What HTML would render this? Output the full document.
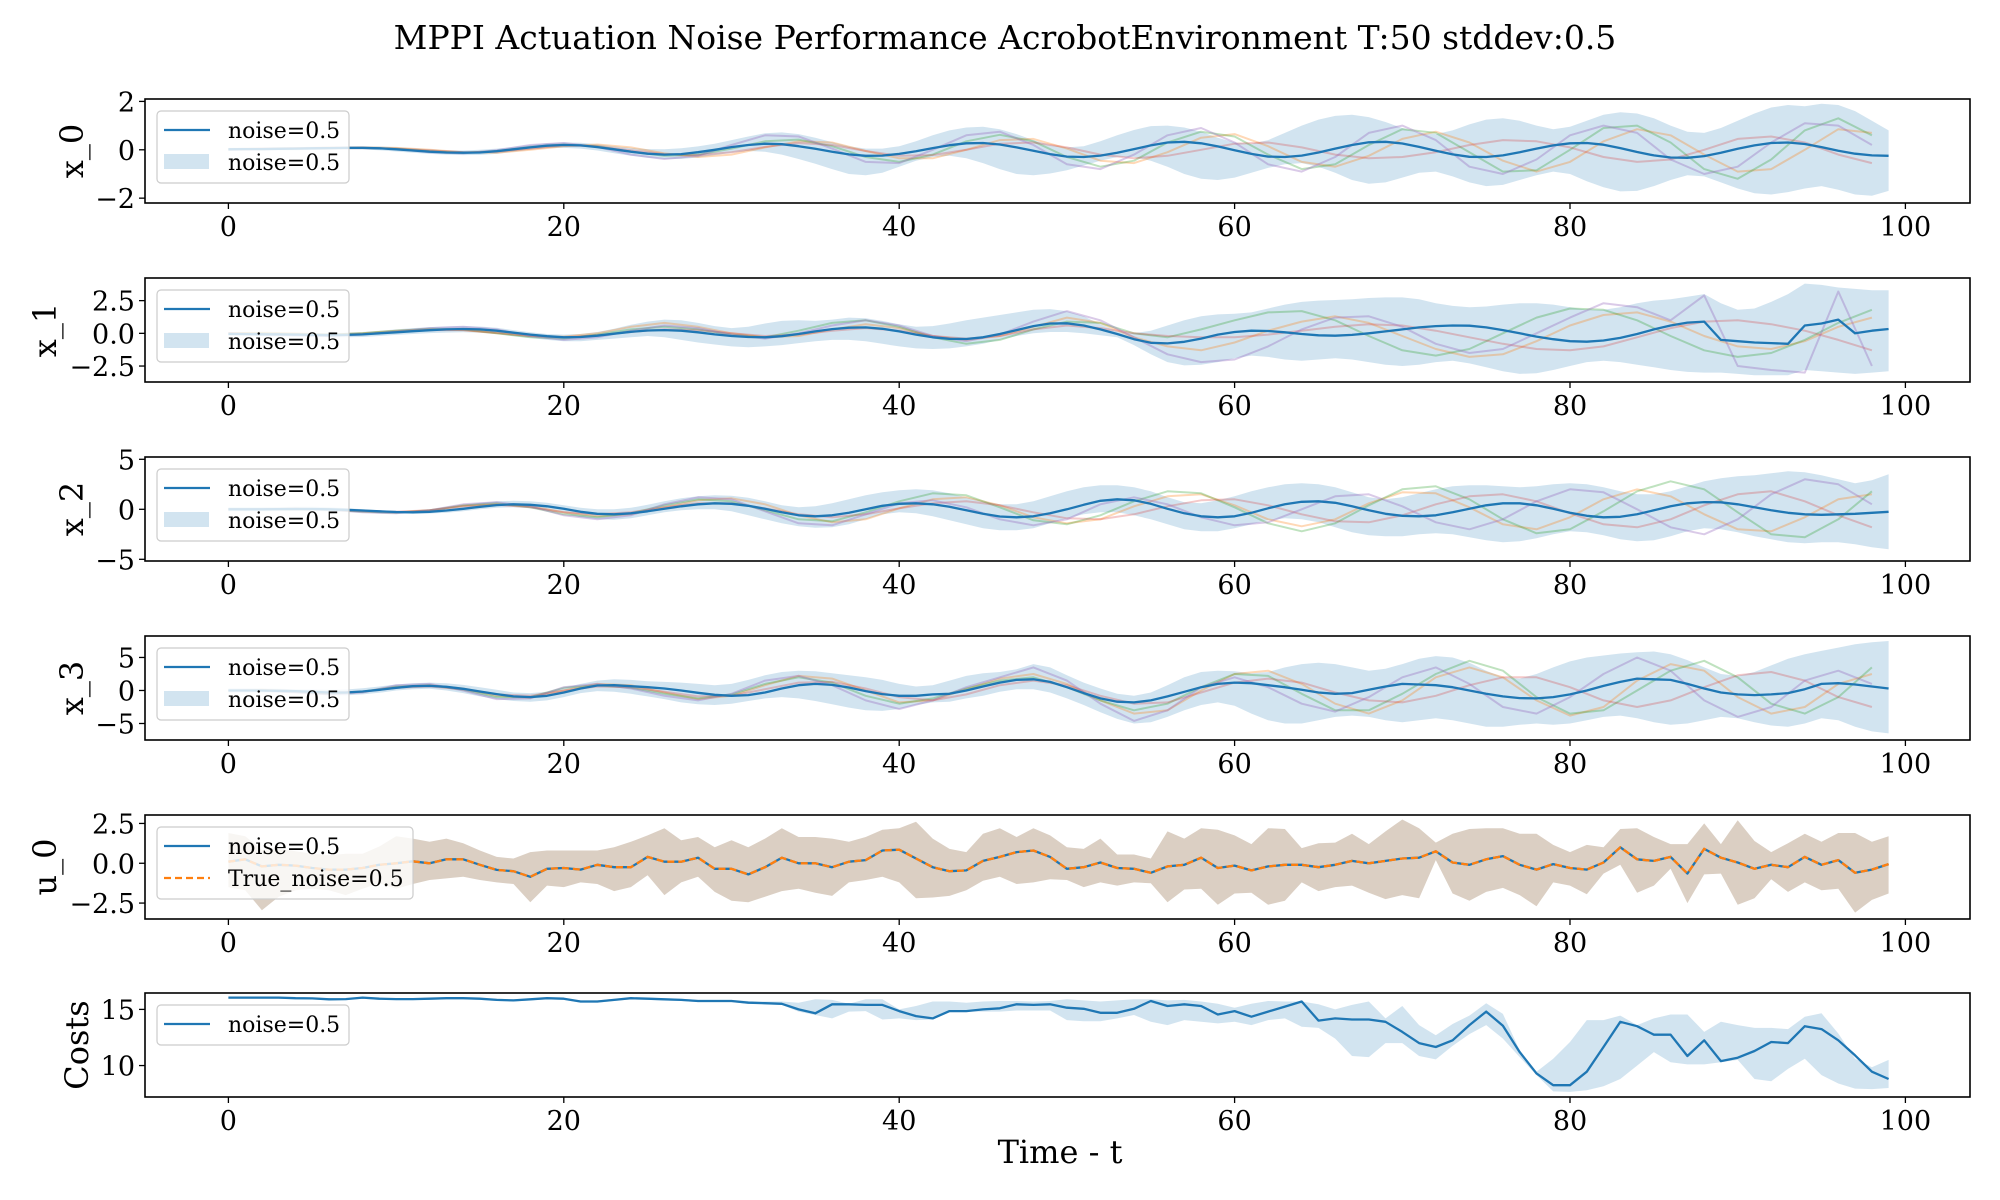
<!DOCTYPE html>
<html><head><meta charset="utf-8">
<style>
html,body{margin:0;padding:0;background:#fff;}
svg{display:block;font-family:"DejaVu Serif","Liberation Serif",serif;}
</style></head>
<body>
<svg id="chart" width="2000" height="1200" viewBox="0 0 2000 1200">
<text x="1005" y="49" font-size="33" text-anchor="middle">MPPI Actuation Noise Performance AcrobotEnvironment T:50 stddev:0.5</text>
<text x="1060" y="1163" font-size="32" text-anchor="middle">Time - t</text>
</svg>
<script>
// ---------- data ----------
const xTicks = [0,20,40,60,80,100];
const x0Mean = [0.02,0.03,0.03,0.04,0.05,0.06,0.07,0.08,0.08,0.06,0.02,-0.03,-0.08,-0.11,-0.12,-0.11,-0.06,0.02,0.1,0.17,0.2,0.18,0.11,0.02,-0.08,-0.16,-0.2,-0.18,-0.1,0.0,0.11,0.2,0.25,0.23,0.15,0.04,-0.08,-0.19,-0.25,-0.24,-0.17,-0.06,0.07,0.19,0.27,0.28,0.22,0.1,-0.04,-0.18,-0.28,-0.3,-0.24,-0.12,0.03,0.18,0.3,0.33,0.27,0.14,-0.02,-0.17,-0.28,-0.3,-0.24,-0.11,0.05,0.2,0.31,0.33,0.26,0.12,-0.04,-0.19,-0.29,-0.3,-0.23,-0.1,0.05,0.18,0.27,0.28,0.21,0.07,-0.09,-0.23,-0.32,-0.33,-0.26,-0.12,0.04,0.18,0.28,0.3,0.24,0.11,-0.04,-0.16,-0.23,-0.25];
const x0Hi = [0.08,0.09,0.1,0.1,0.11,0.12,0.13,0.14,0.15,0.14,0.1,0.06,0.02,-0.02,-0.03,0.0,0.05,0.12,0.2,0.27,0.3,0.29,0.23,0.15,0.08,0.03,0.02,0.06,0.14,0.25,0.4,0.55,0.68,0.72,0.65,0.5,0.32,0.15,0.05,0.05,0.15,0.35,0.6,0.8,0.92,0.95,0.85,0.65,0.4,0.2,0.1,0.15,0.35,0.6,0.82,0.98,1.0,0.92,0.75,0.5,0.3,0.25,0.4,0.7,1.0,1.25,1.4,1.45,1.35,1.15,0.9,0.7,0.65,0.8,1.05,1.25,1.3,1.2,1.0,0.85,0.95,1.2,1.45,1.55,1.5,1.3,1.0,0.75,0.7,0.9,1.2,1.5,1.75,1.85,1.8,1.9,1.85,1.6,1.2,0.8];
const x0Lo = [-0.04,-0.03,-0.03,-0.02,-0.02,-0.01,0.0,0.01,0.01,-0.02,-0.07,-0.12,-0.17,-0.2,-0.22,-0.21,-0.17,-0.08,0.0,0.06,0.08,0.05,-0.03,-0.14,-0.25,-0.33,-0.38,-0.38,-0.32,-0.22,-0.12,-0.05,-0.08,-0.2,-0.38,-0.58,-0.8,-1.0,-1.05,-0.95,-0.7,-0.45,-0.3,-0.25,-0.35,-0.55,-0.8,-1.0,-1.05,-0.98,-0.85,-0.65,-0.45,-0.3,-0.3,-0.45,-0.7,-1.0,-1.2,-1.25,-1.15,-0.95,-0.75,-0.6,-0.55,-0.7,-0.95,-1.25,-1.4,-1.35,-1.15,-0.95,-0.9,-1.1,-1.35,-1.5,-1.45,-1.25,-1.05,-0.9,-1.0,-1.3,-1.55,-1.72,-1.7,-1.5,-1.25,-1.05,-1.1,-1.35,-1.6,-1.8,-1.85,-1.75,-1.6,-1.5,-1.65,-1.85,-1.9,-1.7];
const x0Purple = [0.02,0.04,0.06,0.08,0.09,0.03,-0.1,-0.15,-0.02,0.2,0.28,0.12,-0.2,-0.38,-0.25,0.2,0.6,0.55,0.05,-0.5,-0.55,0.0,0.6,0.75,0.2,-0.6,-0.8,-0.2,0.6,0.9,0.3,-0.6,-0.9,-0.3,0.7,1.0,0.4,-0.7,-1.0,-0.4,0.6,1.0,0.7,-0.4,-1.0,-0.7,0.3,1.1,1.0,0.2];
const x0Green = [0.02,0.03,0.05,0.07,0.08,0.04,-0.06,-0.12,-0.05,0.12,0.22,0.15,-0.08,-0.25,-0.2,0.05,0.35,0.42,0.15,-0.3,-0.5,-0.2,0.35,0.62,0.35,-0.3,-0.7,-0.45,0.3,0.75,0.55,-0.2,-0.8,-0.6,0.2,0.85,0.7,-0.1,-0.9,-0.85,0.0,0.9,1.0,0.3,-0.8,-1.2,-0.4,0.8,1.3,0.6];
const x0Orange = [0.03,0.05,0.07,0.09,0.1,0.08,0.0,-0.1,-0.12,0.0,0.15,0.22,0.1,-0.15,-0.3,-0.2,0.1,0.35,0.3,-0.05,-0.35,-0.35,0.0,0.4,0.45,0.05,-0.45,-0.55,-0.1,0.5,0.65,0.15,-0.5,-0.7,-0.25,0.45,0.75,0.3,-0.45,-0.9,-0.5,0.35,0.85,0.6,-0.2,-0.9,-0.8,0.0,0.85,0.7];
const x0Red = [0.0,0.02,0.04,0.06,0.07,0.05,-0.03,-0.1,-0.08,0.05,0.18,0.15,-0.02,-0.18,-0.22,-0.1,0.12,0.28,0.2,-0.05,-0.25,-0.22,0.0,0.25,0.3,0.1,-0.2,-0.35,-0.25,0.0,0.25,0.3,0.1,-0.2,-0.35,-0.3,-0.1,0.2,0.4,0.35,0.1,-0.3,-0.5,-0.4,0.0,0.45,0.55,0.3,-0.2,-0.55];

const x1Mean = [-0.05,-0.06,-0.07,-0.08,-0.1,-0.12,-0.14,-0.12,-0.08,0.0,0.08,0.16,0.24,0.3,0.33,0.3,0.2,0.05,-0.1,-0.22,-0.3,-0.28,-0.18,-0.03,0.12,0.22,0.25,0.2,0.08,-0.08,-0.2,-0.28,-0.3,-0.22,-0.05,0.15,0.32,0.43,0.45,0.35,0.15,-0.1,-0.3,-0.42,-0.43,-0.3,-0.05,0.25,0.55,0.75,0.77,0.6,0.3,-0.05,-0.45,-0.72,-0.77,-0.65,-0.4,-0.1,0.1,0.2,0.18,0.08,-0.05,-0.15,-0.18,-0.12,0.0,0.15,0.3,0.45,0.55,0.6,0.58,0.45,0.25,0.0,-0.25,-0.45,-0.6,-0.64,-0.55,-0.35,-0.05,0.3,0.6,0.82,0.9,-0.5,-0.6,-0.7,-0.75,-0.8,0.6,0.75,1.05,0.0,0.2,0.33];
const x1Hi = [0.05,0.05,0.05,0.04,0.03,0.02,0.0,0.05,0.1,0.2,0.3,0.4,0.48,0.52,0.55,0.52,0.42,0.25,0.08,-0.05,-0.1,-0.05,0.1,0.35,0.65,0.9,1.05,1.0,0.8,0.55,0.4,0.5,0.75,0.95,1.0,0.95,1.05,1.2,1.15,0.95,0.7,0.5,0.55,0.75,1.0,1.2,1.4,1.6,1.8,1.85,1.7,1.3,0.7,0.15,0.0,0.2,0.6,1.0,1.3,1.45,1.5,1.6,1.9,2.2,2.4,2.5,2.55,2.6,2.7,2.75,2.75,2.6,2.3,2.1,2.0,2.05,2.2,2.3,2.3,2.2,2.0,1.8,1.8,2.0,2.3,2.5,2.6,2.8,3.0,2.3,1.8,1.9,2.4,3.0,3.8,3.7,3.5,3.4,3.3,3.3];
const x1Lo = [-0.15,-0.17,-0.2,-0.22,-0.25,-0.28,-0.3,-0.3,-0.28,-0.2,-0.12,-0.05,0.02,0.06,0.08,0.05,-0.05,-0.2,-0.35,-0.5,-0.6,-0.6,-0.5,-0.4,-0.3,-0.2,-0.3,-0.5,-0.7,-0.85,-1.0,-1.07,-1.0,-0.9,-0.75,-0.6,-0.5,-0.5,-0.6,-0.8,-1.0,-1.15,-1.2,-1.15,-1.0,-0.8,-0.5,-0.2,0.0,0.1,0.1,0.0,-0.15,-0.3,-0.9,-1.6,-2.2,-2.45,-2.4,-2.2,-1.9,-1.7,-1.8,-2.0,-2.1,-2.0,-1.9,-2.0,-2.2,-2.4,-2.5,-2.4,-2.2,-2.1,-2.3,-2.6,-2.9,-3.1,-3.05,-2.8,-2.5,-2.2,-2.1,-2.2,-2.4,-2.6,-2.8,-2.95,-3.0,-3.0,-3.1,-3.2,-3.2,-3.2,-2.8,-2.9,-3.0,-3.1,-3.0,-2.9];
const x1Purple = [0,-0.1,-0.15,-0.2,-0.1,0.15,0.4,0.5,0.3,-0.2,-0.5,-0.3,0.2,0.6,0.4,-0.1,-0.4,0.0,0.6,1.0,0.6,-0.2,-0.6,-0.1,0.9,1.7,1.0,-0.3,-1.6,-2.2,-2.0,-1.0,0.3,1.2,1.3,0.5,-0.8,-1.5,-1.2,0.0,1.2,2.3,2.0,1.0,2.9,-2.5,-2.8,-3.0,3.2,-2.5];
const x1Green = [0,0,-0.05,-0.1,0.0,0.2,0.35,0.3,0.0,-0.3,-0.4,-0.1,0.3,0.5,0.3,-0.1,-0.3,0.2,0.8,1.0,0.5,-0.3,-0.8,-0.5,0.3,0.9,0.8,0.0,-0.3,0.3,1.0,1.6,1.7,1.0,-0.2,-1.3,-1.7,-1.2,0.0,1.2,1.9,1.8,1.0,-0.2,-1.3,-1.8,-1.5,-0.5,0.8,1.8];
const x1Orange = [0,0.05,0.0,-0.1,0.0,0.2,0.3,0.25,0.0,-0.2,-0.25,0.0,0.5,0.8,0.5,0.0,-0.3,-0.2,0.3,0.7,0.4,-0.2,-0.5,-0.2,0.5,1.2,0.8,-0.3,-1.0,-1.3,-0.7,0.2,0.9,1.3,0.8,-0.2,-1.2,-1.8,-1.6,-0.6,0.6,1.4,1.6,0.9,-0.2,-1.0,-1.2,-0.6,0.5,1.2];
const x1Red = [0,-0.05,-0.1,-0.15,-0.05,0.1,0.25,0.25,0.05,-0.2,-0.3,-0.15,0.1,0.3,0.25,0.0,-0.2,-0.1,0.2,0.4,0.2,-0.2,-0.4,-0.2,0.3,0.6,0.4,0.0,-0.2,-0.3,-0.3,-0.1,0.2,0.5,0.7,0.6,0.2,-0.3,-0.8,-1.2,-1.3,-1.0,-0.3,0.4,0.9,1.0,0.7,0.2,-0.5,-1.3];

const x2Mean = [0.0,0.0,0.0,0.02,0.03,0.03,0.0,-0.05,-0.12,-0.2,-0.27,-0.3,-0.25,-0.12,0.05,0.25,0.42,0.5,0.45,0.3,0.05,-0.25,-0.45,-0.5,-0.4,-0.2,0.05,0.3,0.5,0.6,0.55,0.35,0.05,-0.3,-0.6,-0.7,-0.6,-0.35,0.0,0.35,0.55,0.6,0.5,0.25,-0.1,-0.45,-0.72,-0.8,-0.7,-0.4,0.0,0.45,0.85,1.0,0.9,0.55,0.05,-0.4,-0.7,-0.8,-0.7,-0.35,0.1,0.5,0.75,0.8,0.65,0.3,-0.1,-0.45,-0.65,-0.7,-0.6,-0.3,0.05,0.4,0.6,0.6,0.4,0.05,-0.35,-0.65,-0.8,-0.75,-0.5,-0.1,0.3,0.6,0.72,0.7,0.5,0.2,-0.1,-0.35,-0.5,-0.55,-0.5,-0.45,-0.35,-0.25];
const x2Hi = [0.2,0.2,0.2,0.22,0.25,0.25,0.2,0.12,0.0,-0.1,-0.15,-0.15,-0.05,0.15,0.4,0.65,0.8,0.85,0.8,0.65,0.4,0.15,0.0,0.0,0.15,0.45,0.8,1.1,1.3,1.4,1.35,1.15,0.8,0.4,0.2,0.3,0.6,1.0,1.4,1.7,1.9,2.0,1.9,1.6,1.2,0.8,0.5,0.5,0.8,1.3,1.8,2.2,2.4,2.4,2.2,1.8,1.2,0.7,0.6,0.9,1.3,1.8,2.2,2.5,2.6,2.5,2.2,1.7,1.2,1.0,1.2,1.6,2.0,2.3,2.4,2.4,2.3,2.2,2.3,2.5,2.6,2.5,2.2,1.8,1.5,1.5,1.8,2.3,2.8,3.1,3.3,3.4,3.6,3.8,3.7,3.4,3.0,2.6,2.9,3.5];
const x2Lo = [-0.2,-0.2,-0.2,-0.18,-0.17,-0.17,-0.2,-0.25,-0.3,-0.4,-0.45,-0.45,-0.42,-0.35,-0.2,0.0,0.15,0.2,0.1,-0.1,-0.4,-0.8,-1.0,-1.05,-0.9,-0.6,-0.3,-0.1,0.0,0.0,-0.2,-0.6,-1.0,-1.4,-1.7,-1.85,-1.8,-1.5,-1.0,-0.5,-0.3,-0.4,-0.7,-1.1,-1.5,-1.9,-2.1,-2.1,-1.9,-1.4,-0.9,-0.5,-0.3,-0.3,-0.6,-1.0,-1.5,-2.0,-2.2,-2.2,-1.9,-1.5,-1.1,-0.9,-1.0,-1.3,-1.8,-2.3,-2.6,-2.7,-2.7,-2.5,-2.4,-2.5,-2.8,-3.1,-3.3,-3.2,-2.9,-2.5,-2.2,-2.3,-2.6,-3.0,-3.2,-3.1,-2.7,-2.2,-1.9,-2.0,-2.3,-2.7,-3.0,-3.3,-3.4,-3.3,-3.3,-3.5,-3.8,-4.0];
const x2Purple = [0,0,0.05,-0.05,-0.3,-0.4,-0.1,0.5,0.7,0.3,-0.6,-1.0,-0.6,0.5,1.2,1.0,-0.2,-1.4,-1.6,-0.5,0.6,0.9,0.2,-1.0,-1.6,-1.0,0.5,1.2,0.5,-0.8,-1.6,-1.3,0.0,1.3,1.5,0.3,-1.3,-2.0,-1.0,0.8,2.0,1.7,0.0,-1.8,-2.5,-1.0,1.5,3.0,2.5,0.5];
const x2Green = [0,0,0.0,-0.05,-0.25,-0.35,-0.1,0.4,0.6,0.2,-0.5,-0.8,-0.4,0.4,1.0,0.8,-0.1,-1.0,-1.2,-0.3,0.8,1.6,1.4,0.2,-1.1,-1.5,-0.6,0.8,1.8,1.6,0.2,-1.4,-2.2,-1.4,0.4,2.0,2.3,1.0,-1.0,-2.4,-2.0,-0.2,1.8,2.8,2.0,-0.3,-2.5,-2.8,-1.0,1.8];
const x2Orange = [0,0.02,0.05,0.0,-0.2,-0.3,-0.1,0.35,0.5,0.3,-0.3,-0.7,-0.5,0.2,0.9,1.1,0.5,-0.6,-1.3,-1.0,0.1,1.0,1.2,0.4,-0.8,-1.4,-1.0,0.3,1.3,1.5,0.4,-1.0,-1.7,-1.0,0.6,1.7,1.6,0.2,-1.5,-2.0,-0.8,1.0,2.0,1.3,-0.5,-2.0,-2.2,-0.8,1.0,1.5];
const x2Red = [0,0.0,0.0,-0.02,-0.15,-0.25,-0.1,0.3,0.45,0.2,-0.3,-0.5,-0.3,0.2,0.6,0.6,0.1,-0.5,-0.8,-0.5,0.1,0.6,0.8,0.4,-0.3,-0.9,-1.0,-0.5,0.3,0.9,1.0,0.4,-0.5,-1.2,-1.3,-0.6,0.5,1.3,1.5,0.8,-0.4,-1.5,-1.8,-1.0,0.4,1.5,1.8,0.8,-0.6,-1.8];

const x3Mean = [0.0,0.0,0.0,-0.05,-0.1,-0.2,-0.3,-0.3,-0.15,0.1,0.4,0.65,0.7,0.55,0.25,-0.15,-0.55,-0.9,-1.0,-0.8,-0.3,0.3,0.75,0.8,0.65,0.5,0.3,0.0,-0.35,-0.65,-0.8,-0.7,-0.3,0.3,0.8,1.0,0.85,0.45,-0.1,-0.55,-0.8,-0.8,-0.6,-0.5,0.0,0.6,1.2,1.6,1.7,1.3,0.5,-0.4,-1.2,-1.7,-1.8,-1.5,-0.9,-0.2,0.5,1.0,1.2,1.1,0.8,0.5,0.1,-0.3,-0.5,-0.4,0.1,0.6,1.0,0.9,0.8,0.5,0.0,-0.5,-0.9,-1.15,-1.2,-1.0,-0.6,0.0,0.7,1.3,1.8,1.7,1.6,1.0,0.3,-0.3,-0.6,-0.7,-0.6,-0.4,0.2,1.0,1.1,0.9,0.6,0.3];
const x3Hi = [0.3,0.3,0.3,0.25,0.2,0.15,0.1,0.15,0.35,0.6,0.9,1.1,1.2,1.1,0.85,0.5,0.1,-0.3,-0.4,-0.2,0.4,1.0,1.5,1.7,1.6,1.4,1.3,1.2,1.0,0.8,1.0,1.6,2.3,2.8,3.0,2.9,2.6,2.3,2.0,1.6,1.0,0.6,0.8,1.5,2.2,2.6,2.8,3.2,4.0,3.5,2.3,1.2,0.3,-0.5,-0.8,-0.3,0.8,2.0,2.8,3.0,2.9,2.6,2.8,3.5,4.0,4.2,4.0,3.5,3.0,3.3,4.0,4.8,5.2,5.0,4.2,3.0,2.0,1.8,2.5,3.5,4.4,5.0,5.3,5.6,5.8,5.9,5.5,4.6,3.5,2.5,2.2,2.8,3.8,4.8,5.5,6.0,6.5,7.0,7.3,7.5];
const x3Lo = [-0.3,-0.3,-0.3,-0.35,-0.4,-0.55,-0.7,-0.75,-0.6,-0.35,0.0,0.2,0.25,0.0,-0.4,-0.9,-1.3,-1.6,-1.7,-1.5,-1.0,-0.4,-0.1,-0.2,-0.5,-0.9,-1.3,-1.8,-2.1,-2.2,-2.0,-1.6,-1.2,-1.0,-1.2,-1.6,-2.1,-2.6,-3.0,-3.1,-2.8,-2.2,-1.8,-1.7,-1.2,-0.8,-0.2,0.2,0.2,-0.3,-1.2,-2.2,-3.3,-4.3,-5.0,-4.8,-4.0,-3.0,-2.2,-1.8,-2.3,-3.5,-4.5,-5.0,-5.0,-4.5,-4.0,-3.8,-4.0,-4.5,-4.8,-4.5,-4.2,-4.5,-5.0,-5.5,-5.5,-5.2,-5.0,-5.2,-5.0,-4.5,-4.0,-3.8,-4.2,-4.8,-5.2,-5.0,-4.5,-4.0,-4.2,-4.8,-5.3,-5.5,-5.0,-4.2,-4.5,-5.5,-6.2,-6.5];
const x3Purple = [0,0,-0.3,-0.6,-0.3,0.8,1.0,0.0,-1.3,-1.2,0.5,1.0,0.3,-0.8,-1.5,-0.5,1.5,2.2,0.8,-1.5,-2.8,-1.5,0.5,2.0,3.5,1.5,-2.0,-4.6,-3.0,0.5,2.0,0.5,-2.0,-3.2,-1.0,2.0,3.5,1.0,-2.5,-3.5,-1.0,2.5,5.0,3.0,-1.5,-4.0,-2.5,1.5,3.0,1.0];
const x3Green = [0,0,-0.2,-0.5,-0.2,0.6,0.8,0.1,-1.0,-1.0,0.4,0.8,0.4,-0.5,-1.2,-0.6,1.0,2.0,1.2,-0.8,-2.0,-1.2,0.3,1.5,2.0,0.5,-1.5,-3.0,-2.0,0.5,2.5,2.2,-0.5,-3.0,-3.0,-0.5,2.5,4.5,3.0,-1.0,-3.5,-3.0,0.0,3.0,4.5,2.0,-2.0,-3.5,-1.0,3.5];
const x3Orange = [0,0.1,-0.1,-0.4,-0.2,0.5,0.8,0.3,-0.8,-1.1,0.0,1.0,0.8,-0.3,-1.3,-0.8,0.8,2.2,1.8,0.0,-1.8,-1.5,0.2,1.8,2.5,1.0,-1.5,-3.5,-3.0,0.0,2.5,3.0,1.0,-2.0,-3.5,-1.5,2.0,3.5,2.0,-1.5,-3.8,-2.5,1.5,4.0,3.0,-1.0,-3.5,-2.5,1.0,2.5];
const x3Red = [0,0,-0.1,-0.3,-0.2,0.4,0.6,0.2,-0.6,-0.8,0.0,0.6,0.5,-0.2,-0.9,-0.8,0.2,1.2,1.3,0.3,-1.0,-1.5,-0.6,0.8,1.5,0.8,-0.8,-2.0,-1.8,-0.3,1.2,1.8,1.2,-0.3,-1.5,-1.8,-0.8,0.8,2.0,2.0,0.5,-1.5,-2.5,-1.5,0.5,2.3,2.8,1.5,-1.0,-2.5];

const u0Mean = [0.1,0.25,-0.2,-0.1,-0.15,-0.3,-0.4,-0.4,-0.3,-0.1,0.0,0.12,0.0,0.25,0.25,-0.1,-0.42,-0.5,-0.85,-0.35,-0.3,-0.4,-0.1,-0.25,-0.25,0.4,0.1,0.1,0.35,-0.35,-0.35,-0.7,-0.25,0.35,0.0,0.0,-0.25,0.1,0.2,0.8,0.85,0.3,-0.25,-0.5,-0.45,0.15,0.4,0.7,0.8,0.4,-0.35,-0.25,0.05,-0.3,-0.35,-0.6,-0.2,-0.1,0.35,-0.3,-0.15,-0.45,-0.2,-0.1,-0.1,-0.25,-0.1,0.15,0.0,0.15,0.3,0.35,0.75,0.05,-0.1,0.25,0.45,-0.1,-0.4,-0.05,-0.3,-0.4,0.05,1.0,0.25,0.15,0.4,-0.65,0.9,0.35,0.05,-0.35,-0.1,-0.25,0.4,-0.1,0.2,-0.6,-0.4,-0.05];
const u0Hi = [1.9,1.7,0.85,0.95,0.75,0.6,0.5,0.6,0.6,1.05,1.7,1.55,1.35,1.55,1.25,0.8,0.4,0.3,0.7,0.8,0.8,0.8,0.8,1.0,1.35,1.75,2.2,1.45,1.65,1.0,1.45,1.0,1.55,2.2,1.65,1.65,1.55,1.35,1.65,2.1,2.2,2.6,1.55,0.9,0.7,1.85,2.2,1.65,2.2,1.75,1.0,0.9,1.55,0.55,0.55,0.3,2.0,1.55,2.2,2.1,1.75,1.2,2.2,2.15,0.95,1.25,1.3,1.85,1.2,2.0,2.75,2.2,1.3,1.85,2.15,2.2,2.2,1.85,1.85,1.15,0.7,1.15,1.0,2.15,2.2,1.65,1.2,1.2,2.5,1.2,2.7,1.4,0.7,1.25,1.85,1.35,1.9,1.9,1.35,1.7];
const u0Lo = [-1.5,-1.7,-2.95,-2.1,-1.7,-1.6,-1.7,-2.0,-1.6,-1.25,-1.6,-1.3,-1.05,-0.95,-0.85,-1.05,-1.2,-1.3,-2.45,-1.4,-1.5,-1.2,-1.3,-1.75,-1.5,-0.75,-2.0,-1.2,-0.85,-1.8,-2.35,-2.45,-2.1,-1.75,-1.6,-1.85,-2.05,-1.2,-1.05,-0.85,-1.2,-2.2,-2.15,-2.05,-1.7,-1.1,-0.85,-1.3,-1.2,-1.0,-1.05,-1.5,-1.2,-1.4,-1.2,-1.25,-2.45,-1.65,-1.6,-2.6,-1.9,-1.85,-2.6,-2.35,-1.2,-1.75,-1.5,-1.4,-1.85,-2.25,-2.0,-2.2,0.2,-1.9,-2.35,-1.8,-1.55,-2.0,-2.7,-1.2,-1.4,-1.95,-0.65,-0.1,-1.85,-1.4,-0.35,-2.5,-0.7,-0.65,-2.6,-2.2,-1.0,-1.8,-1.2,-1.7,-1.6,-3.1,-2.3,-1.9];

const costMean = [16.05,16.05,16.05,16.05,16.0,15.98,15.9,15.92,16.05,15.95,15.92,15.92,15.95,16.0,16.0,15.95,15.85,15.8,15.9,16.0,15.95,15.7,15.7,15.85,16.0,15.95,15.9,15.85,15.75,15.75,15.75,15.6,15.55,15.5,15.0,14.65,15.45,15.45,15.4,15.4,14.85,14.4,14.2,14.85,14.85,15.0,15.1,15.45,15.4,15.45,15.15,15.05,14.7,14.7,15.05,15.75,15.3,15.45,15.3,14.55,14.85,14.35,14.8,15.25,15.7,14.0,14.2,14.1,14.1,13.9,13.0,12.0,11.65,12.25,13.6,14.8,13.55,11.2,9.3,8.25,8.25,9.45,11.65,13.9,13.5,12.75,12.75,10.85,12.25,10.4,10.7,11.3,12.1,12.0,13.5,13.25,12.25,10.9,9.45,8.8];
const costHi = [16.1,16.1,16.1,16.1,16.05,16.05,16.0,16.0,16.1,16.0,16.0,16.0,16.0,16.05,16.05,16.0,15.95,15.9,15.95,16.05,16.0,15.8,15.8,15.95,16.05,16.05,16.0,15.95,15.85,15.85,15.85,15.75,15.7,15.7,15.6,15.9,15.85,15.5,15.9,15.9,15.0,15.3,15.7,15.7,15.6,15.7,15.75,15.75,15.7,15.75,15.9,15.8,15.7,15.8,15.9,15.9,15.8,15.85,15.7,15.5,15.15,15.5,15.75,15.7,15.7,15.45,15.0,15.4,15.7,14.2,15.3,13.6,12.7,13.7,14.45,15.55,14.6,11.35,9.45,10.6,12.1,14.05,14.05,14.45,13.6,14.2,14.55,14.55,13.0,13.9,13.6,13.35,13.35,13.25,14.35,14.65,12.85,10.6,9.85,10.5];
const costLo = [15.95,15.95,15.95,15.95,15.9,15.9,15.8,15.85,15.95,15.85,15.85,15.85,15.85,15.9,15.9,15.85,15.75,15.7,15.8,15.9,15.85,15.6,15.6,15.75,15.9,15.85,15.8,15.75,15.65,15.65,15.65,15.5,15.45,15.4,14.8,14.5,14.2,14.8,14.85,14.1,14.2,14.05,14.1,14.8,14.8,14.8,14.8,14.9,14.9,14.9,14.05,13.95,13.95,14.2,14.5,13.9,13.6,14.05,13.9,13.75,13.9,13.6,14.05,14.2,13.45,13.35,12.4,10.85,10.75,12.0,12.0,10.85,10.55,11.75,12.8,13.6,12.4,10.75,9.15,7.7,7.65,7.8,8.15,8.8,10.0,11.2,10.3,10.1,10.1,10.3,10.5,8.8,8.6,9.7,10.6,9.15,8.4,7.95,7.9,8.0];

// ---------- layout ----------
const NS = 'http://www.w3.org/2000/svg';
const svg = document.getElementById('chart');
const AX_L = 145, AX_R = 1970, AX_H = 104;
const T0PX = 228.4, PX_PER_T = 16.77;
function xs(t){ return T0PX + t*PX_PER_T; }
function mk(tag, attrs, parent){
  const e = document.createElementNS(NS, tag);
  for (const k in attrs) e.setAttribute(k, attrs[k]);
  (parent||svg).appendChild(e);
  return e;
}
const T100 = []; for (let i=0;i<100;i++) T100.push(i);
const T50 = []; for (let i=0;i<50;i++) T50.push(i*2);

const panels = [
  {name:'x0', label:'x_0', top:99, ymin:-2.2, ymax:2.1, ticks:[-2,0,2], tickText:['\u22122','0','2'], labelX:72,
   mean:x0Mean, hi:x0Hi, lo:x0Lo, traces:[x0Orange,x0Green,x0Red,x0Purple]},
  {name:'x1', label:'x_1', top:278, ymin:-3.72, ymax:4.23, ticks:[-2.5,0,2.5], tickText:['\u22122.5','0.0','2.5'], labelX:45,
   mean:x1Mean, hi:x1Hi, lo:x1Lo, traces:[x1Orange,x1Green,x1Red,x1Purple]},
  {name:'x2', label:'x_2', top:457, ymin:-5.17, ymax:5.23, ticks:[-5,0,5], tickText:['\u22125','0','5'], labelX:72,
   mean:x2Mean, hi:x2Hi, lo:x2Lo, traces:[x2Orange,x2Green,x2Red,x2Purple]},
  {name:'x3', label:'x_3', top:636, ymin:-7.5, ymax:8.25, ticks:[-5,0,5], tickText:['\u22125','0','5'], labelX:72,
   mean:x3Mean, hi:x3Hi, lo:x3Lo, traces:[x3Orange,x3Green,x3Red,x3Purple]},
  {name:'u0', label:'u_0', top:815, ymin:-3.5, ymax:3.03, ticks:[-2.5,0,2.5], tickText:['\u22122.5','0.0','2.5'], labelX:45,
   mean:u0Mean, hi:u0Hi, lo:u0Lo, traces:[], control:true},
  {name:'costs', label:'Costs', top:993, ymin:7.2, ymax:16.46, ticks:[10,15], tickText:['10','15'], labelX:77,
   mean:costMean, hi:costHi, lo:costLo, traces:[], cost:true}
];
const traceColors = ['rgba(255,127,14,0.3)','rgba(44,160,44,0.3)','rgba(214,39,40,0.25)','rgba(148,103,189,0.35)'];

panels.forEach(p => {
  const g = mk('g', {});
  
  
  const top = p.top, bot = p.top + AX_H;
  const ys = v => bot - (v - p.ymin) / (p.ymax - p.ymin) * AX_H;
  const clipId = 'clip-' + p.name;
  const cp = mk('clipPath', {id: clipId}, g);
  mk('rect', {x:AX_L, y:top, width:AX_R-AX_L, height:AX_H}, cp);
  const plot = mk('g', {'clip-path':'url(#'+clipId+')'}, g);

  let d = '';
  T100.forEach((t,i)=>{ d += (i?'L':'M') + xs(t).toFixed(1) + ',' + ys(p.hi[i]).toFixed(1); });
  for (let i=99;i>=0;i--) d += 'L' + xs(T100[i]).toFixed(1) + ',' + ys(p.lo[i]).toFixed(1);
  const band = mk('path', {d: d+'Z', fill: p.control ? '#dbcfc3' : 'rgba(31,119,180,0.2)', stroke:'none'}, plot);
  
  

  p.traces.forEach((arr, k) => {
    let td = '';
    T50.forEach((t,i)=>{ td += (i?'L':'M') + xs(t).toFixed(1) + ',' + ys(arr[i]).toFixed(1); });
    const tr = mk('path', {d: td, fill:'none', stroke: traceColors[k], 'stroke-width':2, 'stroke-linejoin':'round'}, plot);
    
    
  });

  let md = '';
  T100.forEach((t,i)=>{ md += (i?'L':'M') + xs(t).toFixed(1) + ',' + ys(p.mean[i]).toFixed(1); });
  const ml = mk('path', {d: md, fill:'none', stroke:'#1f77b4', 'stroke-width':2.3, 'stroke-linejoin':'round'}, plot);
  
  
  if (p.control) {
    const tl = mk('path', {d: md, fill:'none', stroke:'#ff7f0e', 'stroke-width':2.3, 'stroke-dasharray':'7,4'}, plot);
    
    
  }

  const fr = mk('rect', {x:AX_L, y:top, width:AX_R-AX_L, height:AX_H, fill:'none', stroke:'#000', 'stroke-width':1.6}, g);
  
  

  xTicks.forEach(t => {
    mk('line', {x1:xs(t), x2:xs(t), y1:bot, y2:bot+6, stroke:'#000', 'stroke-width':1.3}, g);
    const tx = mk('text', {x:xs(t), y:bot+33, 'font-size':27, 'text-anchor':'middle'}, g);
    tx.textContent = t;
    
    
  });
  p.ticks.forEach((v, i) => {
    mk('line', {x1:AX_L-6, x2:AX_L, y1:ys(v), y2:ys(v), stroke:'#000', 'stroke-width':1.3}, g);
    const ty = mk('text', {x:AX_L-10, y:ys(v)+10, 'font-size':27, 'text-anchor':'end'}, g);
    ty.textContent = p.tickText[i];
    
    
  });
  const cy = top + AX_H/2;
  const yl = mk('text', {x:p.labelX, y:cy, 'font-size':32, 'text-anchor':'middle', transform:'rotate(-90 '+p.labelX+' '+cy+')', 'dominant-baseline':'central'}, g);
  yl.textContent = p.label;
  
  

  const lg = mk('g', {}, g);
  
  
  const lw = p.control ? 256 : 192;
  const lh = p.cost ? 40 : 72;
  const lx = 157, ly = top + 12;
  mk('rect', {x:lx, y:ly, width:lw, height:lh, rx:4, fill:'rgba(255,255,255,0.8)', stroke:'#ccc', 'stroke-width':1.2}, lg);
  mk('line', {x1:164, x2:210, y1:ly+19, y2:ly+19, stroke:'#1f77b4', 'stroke-width':2.2}, lg);
  const t1 = mk('text', {x:228, y:ly+27, 'font-size':22}, lg);
  t1.textContent = 'noise=0.5';
  
  
  if (!p.cost) {
    if (p.control) {
      mk('line', {x1:164, x2:210, y1:ly+51, y2:ly+51, stroke:'#ff7f0e', 'stroke-width':2.2, 'stroke-dasharray':'7,4'}, lg);
    } else {
      mk('rect', {x:164, y:ly+43, width:45, height:15, fill:'rgba(31,119,180,0.2)'}, lg);
    }
    const t2 = mk('text', {x:228, y:ly+59, 'font-size':22}, lg);
    t2.textContent = p.control ? 'True_noise=0.5' : 'noise=0.5';
    
    
  }
});
</script>
</body></html>
